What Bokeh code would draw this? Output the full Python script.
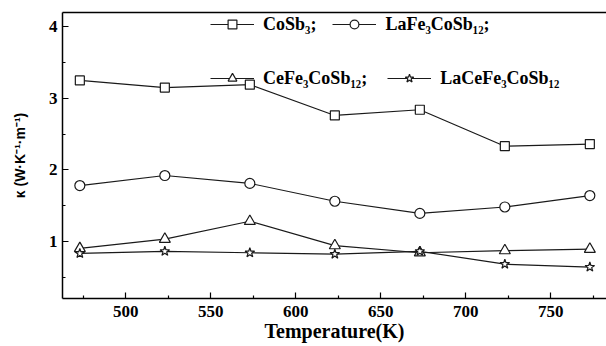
from bokeh.plotting import figure
from bokeh.models import Range1d, LinearAxis, FixedTicker, Legend, LegendItem
from bokeh.embed import file_html
from bokeh.resources import INLINE

# ---- data ----
temperature = [473, 523, 573, 623, 673, 723, 773]
CoSb3 = [3.25, 3.15, 3.19, 2.76, 2.84, 2.33, 2.36]
LaFe3CoSb12 = [1.78, 1.92, 1.81, 1.56, 1.39, 1.48, 1.64]
CeFe3CoSb12 = [0.90, 1.03, 1.28, 0.94, 0.84, 0.87, 0.89]
LaCeFe3CoSb12 = [0.83, 0.86, 0.84, 0.82, 0.86, 0.68, 0.64]

series_names = ["CoSb\u2083;", "LaFe\u2083CoSb\u2081\u2082;", "CeFe\u2083CoSb\u2081\u2082;", "LaCeFe\u2083CoSb\u2081\u2082"]
series_values = [CoSb3, LaFe3CoSb12, CeFe3CoSb12, LaCeFe3CoSb12]
series_markers = ["square", "circle", "triangle", "star"]
marker_sizes = [9, 10, 11, 10]

x_ticks = [500, 550, 600, 650, 700, 750]
x_minor = [475, 525, 575, 625, 675, 725, 775]
y_ticks = [1, 2, 3, 4]
y_minor = [0.5, 1.5, 2.5, 3.5]

SERIF = "Liberation Serif"
INK = "#1a1a1a"

p = figure(width=606, height=346, output_backend="svg", toolbar_location=None,
           x_range=Range1d(462.8, 782.8), y_range=Range1d(0.2, 4.2),
           min_border_left=62, min_border_right=0, min_border_top=12, min_border_bottom=48)
p.outline_line_color = None
p.grid.visible = False
p.background_fill_color = "white"
p.border_fill_color = "white"

items = []
for name, vals, mk, ms in zip(series_names, series_values, series_markers, marker_sizes):
    r1 = p.line(temperature, vals, line_color=INK, line_width=1.2)
    r2 = p.scatter(temperature, vals, marker=mk, size=ms, fill_color="white",
                   line_color=INK, line_width=1.2)
    items.append(LegendItem(label=name, renderers=[r1, r2]))

# axes
xa = p.xaxis[0]
xa.ticker = FixedTicker(ticks=x_ticks, minor_ticks=x_minor)
xa.axis_label = "Temperature(K)"
ya = p.yaxis[0]
ya.ticker = FixedTicker(ticks=y_ticks, minor_ticks=y_minor)
ya.axis_label = "\u03ba (W\u00b7K\u207b\u00b9\u00b7m\u207b\u00b9)"

for ax in (xa, ya):
    ax.axis_line_color = "black"
    ax.axis_line_width = 1.5
    ax.major_tick_line_color = "black"
    ax.minor_tick_line_color = "black"
    ax.major_tick_line_width = 1.2
    ax.minor_tick_line_width = 1.2
    ax.major_tick_in = 6
    ax.major_tick_out = 0
    ax.minor_tick_in = 3
    ax.minor_tick_out = 0
    ax.major_label_text_font = SERIF
    ax.major_label_text_font_style = "bold"
    ax.major_label_text_font_size = "17px"
    ax.major_label_text_color = "black"

xa.major_label_standoff = 7
xa.axis_label_standoff = 0
xa.axis_label_text_font = SERIF
xa.axis_label_text_font_style = "bold"
xa.axis_label_text_font_size = "20px"
xa.axis_label_text_color = "black"

ya.major_label_standoff = 5
ya.axis_label_standoff = 18
ya.axis_label_text_font = "Liberation Sans"
ya.axis_label_text_font_style = "bold"
ya.axis_label_text_font_size = "14px"
ya.axis_label_text_color = "black"

top = LinearAxis(ticker=FixedTicker(ticks=[]), axis_line_color="black", axis_line_width=1.5,
                 major_tick_line_color=None, minor_tick_line_color=None,
                 major_label_text_font_size="0px", major_label_standoff=0)
p.add_layout(top, "above")

def make_legend(its, loc, spacing):
    return Legend(items=its, location=loc, orientation="horizontal",
                  label_text_font=SERIF, label_text_font_style="bold",
                  label_text_font_size="18px", label_text_color="black",
                  glyph_width=44, glyph_height=22, label_standoff=9, spacing=spacing,
                  padding=0, margin=0, border_line_color=None,
                  background_fill_alpha=0)

p.add_layout(make_legend(items[:2], (148, 263), 16))
p.add_layout(make_legend(items[2:], (148, 209), 20))

open("out.html", "w").write(file_html(p, INLINE))
